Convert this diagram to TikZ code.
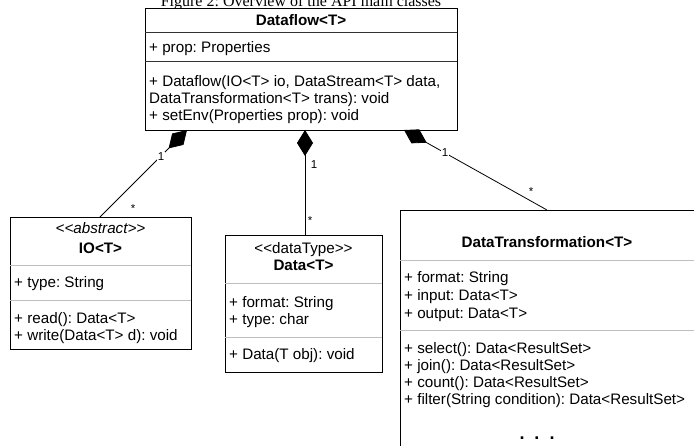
\documentclass[tikz,border=0pt]{standalone}
\usepackage{fontspec}
\setmainfont{Liberation Serif}
\setsansfont{Liberation Sans}
\usetikzlibrary{arrows.meta,calc}
\frenchspacing

\newcommand\umlsize{\fontsize{15.2}{17}\selectfont}
\newcommand\lguil{<\kern0pt<}
\newcommand\rguil{>\kern0pt>}

\tikzset{
  classbox/.style={draw, fill=white, line width=0.9pt, inner sep=0pt, outer sep=0pt, anchor=north west},
  member/.style={anchor=base west, inner sep=0pt, font=\sffamily\umlsize},
  classname/.style={anchor=base, inner sep=0pt, font=\sffamily\bfseries\umlsize},
  stereo/.style={anchor=base, inner sep=0pt, font=\sffamily\umlsize},
  divider/.style={line width=0.9pt, draw=gray!50},
  composition/.style={line width=0.8pt, {Diamond[length=26pt,width=16pt]}-},
  mult/.style={fill=white, inner sep=0.6pt, font=\sffamily\fontsize{11.5}{13}\selectfont},
}

\begin{document}
\begin{tikzpicture}[x=1pt,y=-1pt]
    \useasboundingbox (0,0) rectangle (694,445);
    \clip (0,0) rectangle (694,445);

    \node[anchor=base, inner sep=0pt, font=\fontsize{16}{19}\selectfont] (caption) at (301,6) {Figure 2: Overview of the API main classes};

    % class boxes
    \node[classbox, minimum width=312pt, minimum height=122pt] (dataflow) at (145,8) {};
    \node[classbox, minimum width=181pt, minimum height=132pt] (io) at (10,217) {};
    \node[classbox, minimum width=157pt, minimum height=137pt] (data) at (225,235) {};
    \node[classbox, minimum width=300pt, minimum height=250pt] (trans) at (400,210) {};

    % compartments
    \draw[divider, draw=black!80] (145,32) -- (457,32) (145,61) -- (457,61);
    \draw[divider] (10,265) -- (191,265) (10,300) -- (191,300);
    \draw[divider] (225,283) -- (382,283) (225,337) -- (382,337);
    \draw[divider] (400,260) -- (700,260) (400,330) -- (700,330);

    \node[classname] (dataflow-name) at (301,25) {Dataflow<T>};
    \node[member] (dataflow-a1) at (149,52) {+ prop: Properties};
    \node[member] (dataflow-m1) at (149,86) {+ Dataflow(IO<T> io, DataStream<T> data,};
    \node[member] (dataflow-m2) at (149,103) {DataTransformation<T> trans): void};
    \node[member] (dataflow-m3) at (149,120) {+ setEnv(Properties prop): void};

    \node[stereo] (io-stereo) at (100.5,233) {\itshape\lguil abstract\rguil};
    \node[classname] (io-name) at (100.5,253) {IO<T>};
    \node[member] (io-a1) at (14,287) {+ type: String};
    \node[member] (io-m1) at (14,323) {+ read(): Data<T>};
    \node[member] (io-m2) at (14,340) {+ write(Data<T> d): void};

    \node[stereo] (data-stereo) at (303.5,253) {\lguil dataType\rguil};
    \node[classname] (data-name) at (303.5,270) {Data<T>};
    \node[member] (data-a1) at (229,307) {+ format: String};
    \node[member] (data-a2) at (229,324) {+ type: char};
    \node[member] (data-m1) at (229,359) {+ Data(T obj): void};

    \node[classname] (trans-name) at (547,247) {DataTransformation<T>};
    \node[member] (trans-a1) at (404,282) {+ format: String};
    \node[member] (trans-a2) at (404,300) {+ input: Data<T>};
    \node[member] (trans-a3) at (404,318) {+ output: Data<T>};
    \node[member] (trans-m1) at (404,353) {+ select(): Data<ResultSet>};
    \node[member] (trans-m2) at (404,370) {+ join(): Data<ResultSet>};
    \node[member] (trans-m3) at (404,387) {+ count(): Data<ResultSet>};
    \node[member] (trans-m4) at (404,404) {+ filter(String condition): Data<ResultSet>};
    \node[anchor=base, inner sep=0pt, font=\sffamily\bfseries\fontsize{18}{20}\selectfont] (trans-more) at (537,439) {.\hspace{10pt}.\hspace{10pt}.};

    % compositions
    \draw[composition] ($(dataflow.south west)+(42,0)$) -- ($(io.north west)+(90,0)$);
    \draw[composition] ($(dataflow.south west)+(160,0)$) -- ($(data.north west)+(80,0)$);
    \draw[composition] ($(dataflow.south west)+(259,0)$) -- ($(trans.north west)+(147,0)$);

    \node[mult] (io-one) at (161,157) {1};
    \node[mult] (io-many) at (133,209) {*};
    \node[mult] (data-one) at (314,165) {1};
    \node[mult] (data-many) at (310,221) {*};
    \node[mult] (trans-one) at (445,153) {1};
    \node[mult] (trans-many) at (531,192) {*};
\end{tikzpicture}
\end{document}
